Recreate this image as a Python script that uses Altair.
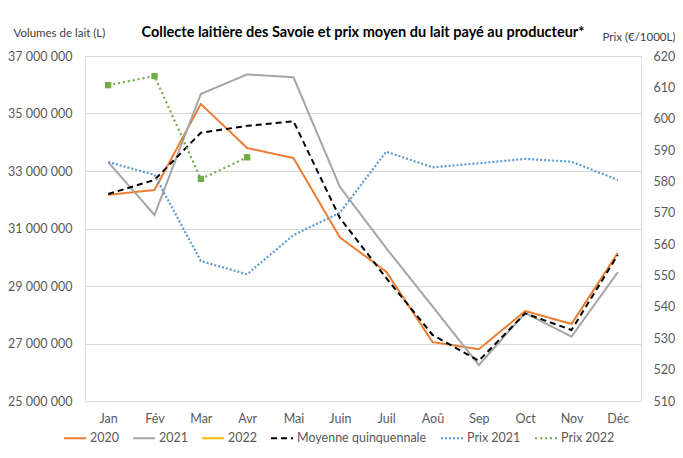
import altair as alt
import pandas as pd

months = ["Jan", "Fév", "Mar", "Avr", "Mai", "Juin", "Juil", "Aoû", "Sep", "Oct", "Nov", "Déc"]
v2020 = [32.17, 32.34, 35.33, 33.80, 33.45, 30.69, 29.50, 27.05, 26.80, 28.13, 27.68, 30.15]
v2021 = [33.31, 31.47, 35.68, 36.36, 36.26, 32.45, 30.32, 28.29, 26.25, 28.06, 27.24, 29.48]
v2022 = []
moyenne = [32.20, 32.69, 34.33, 34.57, 34.73, 31.37, 29.28, 27.30, 26.40, 28.05, 27.47, 30.08]
prix2021 = [586.2, 582.1, 554.6, 550.4, 562.9, 570.0, 589.5, 584.5, 585.8, 587.2, 586.3, 580.5]
prix2022 = [610.7, 613.6, 580.8, 587.7]

series = ["2020", "2021", "2022", "Moyenne quinquennale", "Prix 2021", "Prix 2022"]
colors = ["#ED7D31", "#A5A5A5", "#FFC000", "#000000", "#5B9BD5", "#70AD47"]
dashes = [[1, 0], [1, 0], [1, 0], [6, 4], [2, 2], [2, 3]]

vol_rows = []
for name, vals in [("2020", v2020), ("2021", v2021), ("2022", v2022), ("Moyenne quinquennale", moyenne)]:
    for m, v in zip(months, vals):
        vol_rows.append({"mois": m, "serie": name, "volume": v * 1_000_000})
vol = pd.DataFrame(vol_rows)

prix_rows = []
for name, vals in [("Prix 2021", prix2021), ("Prix 2022", prix2022)]:
    for m, v in zip(months, vals):
        prix_rows.append({"mois": m, "serie": name, "prix": v})
prix = pd.DataFrame(prix_rows)

FONT = "Lato"
GREY = "#595959"

x_enc = alt.X("mois:O", sort=months, scale=alt.Scale(type="point", padding=0.5),
              axis=alt.Axis(title=None, labelAngle=0, ticks=False, domain=False, grid=False,
                            labelPadding=11, labelFontSize=12.5, labelColor=GREY, labelFont=FONT))

color_enc = alt.Color("serie:N", scale=alt.Scale(domain=series, range=colors),
                      legend=alt.Legend(title=None, orient="none", direction="horizontal",
                                        legendX=-22, legendY=370,
                                        symbolType="stroke", symbolSize=484, symbolStrokeWidth=2,
                                        labelFontSize=12.5, labelColor=GREY, labelFont=FONT,
                                        labelOffset=3, columnPadding=10))
dash_enc = alt.StrokeDash("serie:N", scale=alt.Scale(domain=series, range=dashes), legend=alt.Legend(title=None))

vol_line = alt.Chart(vol).mark_line(strokeWidth=2).encode(
    x=x_enc,
    y=alt.Y("volume:Q", scale=alt.Scale(domain=[25_000_000, 37_000_000]),
            axis=alt.Axis(title="Volumes de lait (L)", values=list(range(25_000_000, 37_000_001, 2_000_000)),
                          labelExpr="format(datum.value/1000000, 'd') + ' 000 000'",
                          ticks=False, domain=False, grid=True, gridColor="#D9D9D9",
                          labelPadding=13, labelFontSize=12.5, labelColor=GREY, labelFont=FONT,
                          titleAngle=0, titleAlign="left", titleBaseline="alphabetic",
                          titleX=-72, titleY=-20, titleFontSize=11.5, titleFontWeight="normal",
                          titleColor="#404040", titleFont=FONT)),
    color=color_enc,
    strokeDash=dash_enc,
)

y_prix = alt.Y("prix:Q", scale=alt.Scale(domain=[510, 620]),
               axis=alt.Axis(title="Prix (€/1000L)", orient="right", values=list(range(510, 621, 10)),
                             ticks=False, domain=False, grid=False,
                             labelPadding=12, labelFontSize=12.5, labelColor=GREY, labelFont=FONT,
                             titleAngle=0, titleAlign="right", titleBaseline="alphabetic",
                             titleX=34, titleY=-16, titleFontSize=11.5, titleFontWeight="normal",
                             titleColor="#404040", titleFont=FONT))

prix_line = alt.Chart(prix).mark_line(strokeWidth=2.2).encode(
    x=x_enc, y=y_prix, color=color_enc, strokeDash=dash_enc,
)
prix_pts = alt.Chart(prix).transform_filter(alt.datum.serie == "Prix 2022").mark_point(
    shape="square", filled=True, size=40, opacity=1).encode(
    x=x_enc, y=y_prix, color=alt.Color("serie:N", scale=alt.Scale(domain=series, range=colors), legend=None),
)

chart = alt.layer(vol_line, alt.layer(prix_line, prix_pts)).resolve_scale(y="independent").properties(
    width=556, height=345,
    autosize=alt.AutoSizeParams(type="none"),
    padding={"left": 77, "top": 48, "right": 34, "bottom": 47},
    title=alt.TitleParams("Collecte laitière des Savoie et prix moyen du lait payé au producteur*",
                          fontSize=14.5, fontWeight="bold", font=FONT, color="#000000",
                          anchor="middle", offset=-13),
).configure_view(stroke=None).configure(background="white")

chart.save("out.html", embed_options={"renderer": "svg", "actions": False})
